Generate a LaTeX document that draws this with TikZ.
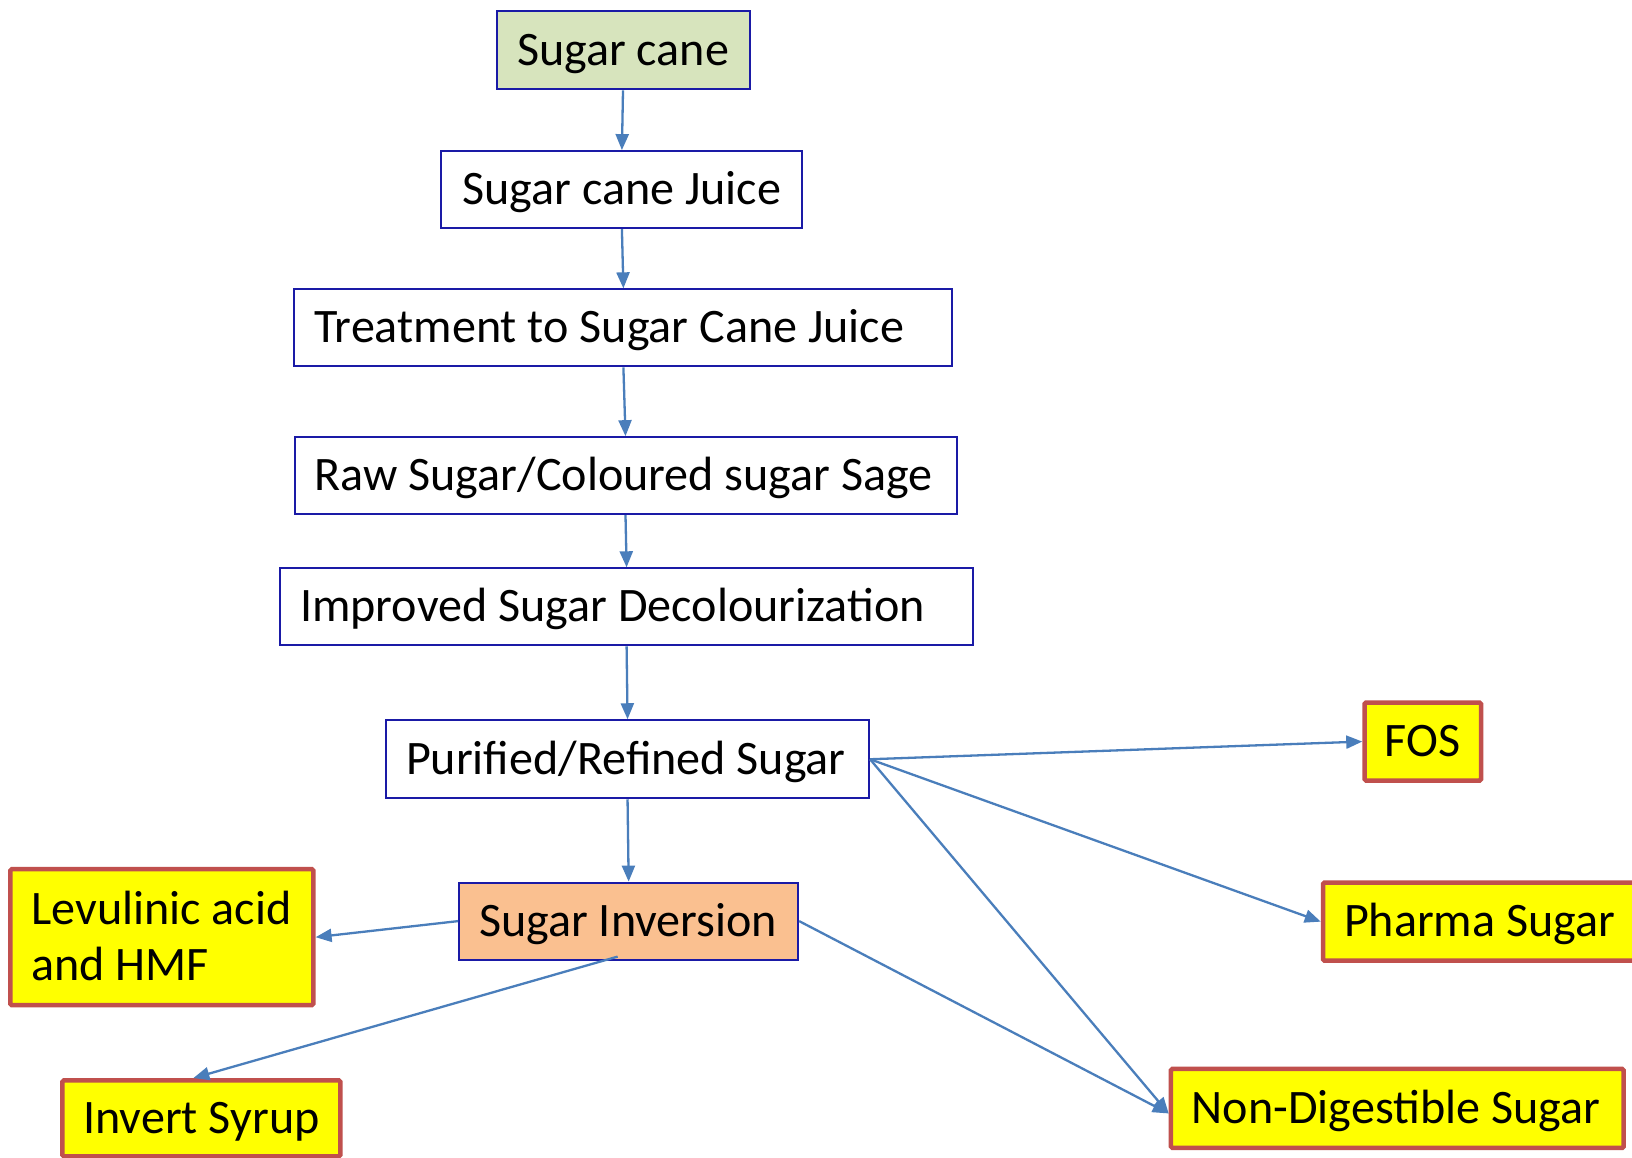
\documentclass[tikz,border=0pt]{standalone}
\usepackage{fontspec}
\setmainfont{Carlito}
\usetikzlibrary{arrows.meta}
\definecolor{boxblue}{HTML}{1A1AA6}
\definecolor{arrblue}{HTML}{4A7EBB}
\definecolor{boxred}{HTML}{C0504D}
\definecolor{yel}{HTML}{FFFF00}
\definecolor{cgreen}{HTML}{D7E4BD}
\definecolor{corange}{HTML}{FAC090}
\tikzset{
  basebox/.style={rectangle, inner sep=0pt, font=\fontsize{48.1}{56}\selectfont},
  oneline/.style={text height=40pt, text depth=10pt},
  bluebox/.style={basebox, oneline, draw=boxblue, line width=2pt},
  redbox/.style={basebox, draw=boxred, line width=4.5pt, fill=yel, rounded corners=1.5pt},
  arr/.style={draw=arrblue, line width=2.3pt, -{Triangle[length=16pt,width=13pt]}},
}
\begin{document}
\begin{tikzpicture}[x=1pt,y=-1pt]
\useasboundingbox (0,0) rectangle (1632,1158);
\fill[white] (0,0) rectangle (1632,1158);
\begin{scope}
\clip (0,0) rectangle (1632,1158);
% process chain
\node[bluebox, fill=cgreen, minimum height=78pt, minimum width=253pt] (sc) at (623,50.45) {Sugar cane};
\node[bluebox, minimum height=77pt, minimum width=361pt] (scj) at (621.9,189.6) {Sugar cane Juice};
\node[bluebox, minimum height=77pt, inner xsep=20pt] (trt) at (623.4,327.85) {\makebox[618pt][l]{Treatment to Sugar Cane Juice}};
\node[bluebox, minimum height=77pt, inner xsep=20pt] (raw) at (625.5,475.65) {\makebox[622pt][l]{Raw Sugar/Coloured sugar Sage}};
\node[bluebox, minimum height=77pt, inner xsep=20pt] (imp) at (626.6,606.8) {\makebox[653pt][l]{Improved Sugar Decolourization}};
\node[bluebox, minimum height=78pt, inner xsep=20pt] (pur) at (627.55,759.25) {\makebox[443pt][l]{Purified/Refined Sugar}};
\node[bluebox, fill=corange, minimum height=77pt, inner xsep=20pt] (inv) at (628.65,921.1) {\makebox[299pt][l]{Sugar Inversion}};
% products
\node[redbox, text height=40pt, text depth=66pt, minimum height=136pt, inner xsep=21pt] (lev) at (161.85,937.2) {\makebox[261pt][l]{\begin{tabular}[t]{@{}l@{}}Levulinic acid\\and HMF\end{tabular}}};
\node[redbox, oneline, minimum height=76pt, inner xsep=21pt] (isy) at (201.35,1118.35) {\makebox[236pt][l]{Invert Syrup}};
\node[redbox, oneline, minimum height=78pt, minimum width=116.5pt] (fos) at (1422.75,741.55) {FOS};
\node[redbox, oneline, minimum height=78pt, inner xsep=21pt] (pha) at (1484,921.65) {\makebox[280pt][l]{Pharma Sugar}};
\node[redbox, oneline, minimum height=79pt, inner xsep=21pt] (nds) at (1397.25,1108.45) {\makebox[410.7pt][l]{Non-Digestible Sugar}};
% connectors
\draw[arr] (sc.south) -- (scj.north);
\draw[arr] (scj.south) -- (trt.north);
\draw[arr] (trt.south) -- (raw.north);
\draw[arr] (raw.south) -- (imp.north);
\draw[arr] (imp.south) -- (pur.north);
\draw[arr] (pur.south) -- (inv.north);
\draw[arr] (pur.east) -- (fos.west);
\draw[arr] (pur.east) -- (pha.west);
\draw[arr] (pur.east) -- ([yshift=-5pt]nds.west);
\draw[arr] (inv.east) -- ([yshift=-5pt]nds.west);
\draw[arr] (inv.west) -- (lev.east);
\draw[arr] ([xshift=-11pt,yshift=4pt]inv.south) -- ([xshift=-8pt]isy.north);
\end{scope}
\end{tikzpicture}
\end{document}
